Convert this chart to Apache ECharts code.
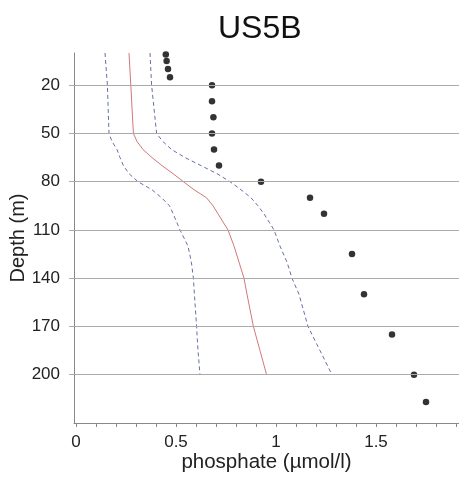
<!DOCTYPE html>
<html>
<head>
<meta charset="utf-8">
<script src="https://cdn.jsdelivr.net/npm/echarts@6/dist/echarts.min.js"></script>
<style>html,body{margin:0;padding:0;background:#fff;}#c{width:459px;height:477px;}</style>
</head>
<body>
<div id="c"></div>
<script>
// Observed phosphate (dots)
const obsDepth = [1, 5, 10, 15, 20, 30, 40, 50, 60, 70, 80, 90, 100, 125, 150, 175, 200, 217];
const obsValue = [0.449, 0.453, 0.46, 0.47, 0.68, 0.68, 0.687, 0.68, 0.69, 0.715, 0.925, 1.17, 1.24, 1.38, 1.44, 1.58, 1.69, 1.75];

// Profile depths for the climatology lines
const profDepth = [0, 20, 50, 55, 60, 65, 70, 75, 80, 85, 90, 95, 100, 110, 120, 130, 140, 150, 170, 185, 200];
const meanValue = [0.265, 0.274, 0.287, 0.305, 0.335, 0.38, 0.43, 0.485, 0.537, 0.59, 0.653, 0.685, 0.71, 0.76, 0.79, 0.815, 0.84, 0.855, 0.887, 0.92, 0.953];
const lowerValue = [0.145, 0.157, 0.165, 0.18, 0.205, 0.22, 0.237, 0.265, 0.31, 0.38, 0.428, 0.468, 0.486, 0.52, 0.56, 0.577, 0.587, 0.592, 0.603, 0.61, 0.62];
const upperValue = [0.37, 0.378, 0.403, 0.434, 0.478, 0.545, 0.625, 0.705, 0.77, 0.825, 0.875, 0.91, 0.94, 0.99, 1.02, 1.055, 1.08, 1.115, 1.16, 1.22, 1.28];

// Axis ticks
const yTicks = [20, 50, 80, 110, 140, 170, 200];
const xLabels = [0, 0.5, 1, 1.5];
const xTicks = [0, 0.1, 0.2, 0.3, 0.4, 0.5, 0.6, 0.7, 0.8, 0.9, 1, 1.1, 1.2, 1.3, 1.4, 1.5, 1.6, 1.7, 1.8, 1.9];

const pair = (xs, ds) => xs.map((v, i) => [v, ds[i]]);
const FONT = 'Liberation Sans';
const AX = '#888';

const chart = echarts.init(document.getElementById('c'), null, {renderer: 'canvas'});
chart.setOption({
  animation: false,
  backgroundColor: '#fff',
  title: {
    text: 'US5B', left: 213, top: 8,
    textStyle: {fontFamily: FONT, fontSize: 32, fontWeight: 'normal', color: '#111'}
  },
  grid: {left: 74, top: 53, width: 385, height: 370, containLabel: false, outerBoundsMode: 'none'},
  xAxis: {
    type: 'value', min: -0.01, max: 1.915, position: 'bottom',
    name: 'phosphate (µmol/l)', nameLocation: 'middle', nameGap: 29, nameMoveOverlap: false,
    nameTextStyle: {fontFamily: FONT, fontSize: 20.5, color: '#222'},
    axisLine: {show: true, onZero: false, lineStyle: {color: AX, width: 1}},
    axisTick: {show: true, customValues: xTicks, length: 4, lineStyle: {color: AX}},
    axisLabel: {customValues: xLabels, margin: 11, fontFamily: FONT, fontSize: 17, color: '#222'},
    splitLine: {show: false}
  },
  yAxis: {
    type: 'value', inverse: true, min: 0, max: 230,
    name: 'Depth (m)', nameLocation: 'middle', nameGap: 46, nameMoveOverlap: false,
    nameTextStyle: {fontFamily: FONT, fontSize: 20, color: '#222'},
    axisLine: {show: true, onZero: false, lineStyle: {color: AX, width: 1}},
    axisTick: {show: true, customValues: yTicks, length: 5, lineStyle: {color: '#aaa'}},
    axisLabel: {customValues: yTicks, margin: 14, fontFamily: FONT, fontSize: 17, color: '#222'},
    splitLine: {show: false}
  },
  series: [
    {
      type: 'line', data: pair(lowerValue, profDepth), showSymbol: false, symbol: 'none',
      lineStyle: {color: '#6670a4', width: 1, type: [4, 3]}, z: 2
    },
    {
      type: 'line', data: pair(upperValue, profDepth), showSymbol: false, symbol: 'none',
      lineStyle: {color: '#6670a4', width: 1, type: [4, 3]}, z: 2
    },
    {
      type: 'line', data: pair(meanValue, profDepth), showSymbol: false, symbol: 'none',
      lineStyle: {color: '#d07878', width: 1}, z: 3
    },
    {
      type: 'scatter', data: pair(obsValue, obsDepth), symbol: 'circle', symbolSize: 6.5,
      itemStyle: {color: '#000'}, z: 4,
      markLine: {
        silent: true, symbol: 'none', label: {show: false}, animation: false,
        lineStyle: {color: '#aaa', width: 1, type: 'solid'},
        data: yTicks.map(v => ({yAxis: v}))
      }
    }
  ]
});
</script>
</body>
</html>
